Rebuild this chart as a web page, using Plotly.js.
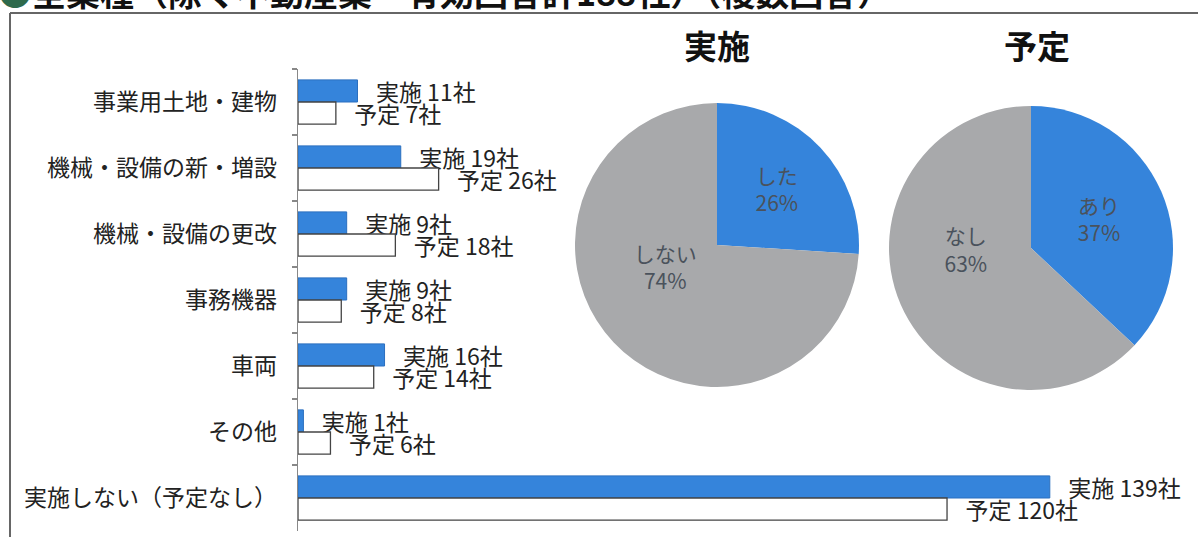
<!DOCTYPE html>
<html>
<head>
<meta charset="utf-8">
<script src="https://cdn.plot.ly/plotly-3.0.1.min.js"></script>
<style>html,body{margin:0;padding:0;background:#fff;}#chart{width:1198px;height:537px;}</style>
</head>
<body>
<div id="chart"></div>
<script>
const categories = ['事業用土地・建物', '機械・設備の新・増設', '機械・設備の更改', '事務機器', '車両', 'その他', '実施しない（予定なし）'];
const jisshiValues = [11, 19, 9, 9, 16, 1, 139];
const yoteiValues = [7, 26, 18, 8, 14, 6, 120];
const jisshiPieLabels = ['した', 'しない'];
const jisshiPieValues = [26, 74];
const yoteiPieLabels = ['あり', 'なし'];
const yoteiPieValues = [37, 63];
const titleText = '<span style="color:#2e6a4c">●</span>全業種（除く不動産業・有効回答計188社）（複数回答）';

const FONT = '"Noto Sans CJK JP", "Noto Sans", sans-serif';
const BLUE = '#3584db';
const GRAY = '#a8a9ab';
const NB = '\u00a0\u00a0\u00a0';
const LIFT = '<br>\u00a0<br>\u00a0';

// pixel helpers for plot area: x 298..1198, y 69..531
const L = 298, W = 900, T = 69, H = 462;
const px = v => (v - L) / W;
const py = v => (T + H - v) / H;

const traces = [
  {
    type: 'bar', orientation: 'h', name: '実施',
    y: categories, x: jisshiValues,
    marker: {color: BLUE, line: {color: '#2b6fbf', width: 1}},
    texttemplate: NB + '実施 %{x}社', textposition: 'outside',
    textfont: {family: FONT, size: 23, color: '#222'},
    constraintext: 'none', cliponaxis: false, hoverinfo: 'skip'
  },
  {
    type: 'bar', orientation: 'h', name: '予定',
    y: categories, x: yoteiValues,
    marker: {color: '#ffffff', line: {color: '#444', width: 1.3}},
    texttemplate: NB + '予定 %{x}社', textposition: 'outside',
    textfont: {family: FONT, size: 23, color: '#222'},
    constraintext: 'none', cliponaxis: false, hoverinfo: 'skip'
  },
  {
    type: 'pie', labels: jisshiPieLabels, values: jisshiPieValues,
    sort: false, direction: 'clockwise', rotation: 0,
    marker: {colors: [BLUE, GRAY], line: {width: 0}},
    texttemplate: ['%{label}<br>%{value}%', '%{label}<br>%{value}%' + LIFT], textposition: 'inside',
    insidetextorientation: 'horizontal',
    textfont: {family: FONT, size: 21, color: '#4a525c'},
    domain: {x: [px(575), px(859)], y: [py(387), py(103)]},
    showlegend: false, hoverinfo: 'skip'
  },
  {
    type: 'pie', labels: yoteiPieLabels, values: yoteiPieValues,
    sort: false, direction: 'clockwise', rotation: 0,
    marker: {colors: [BLUE, GRAY], line: {width: 0}},
    texttemplate: ['%{label}<br>%{value}%', '%{label}<br>%{value}%' + LIFT], textposition: 'inside',
    insidetextorientation: 'horizontal',
    textfont: {family: FONT, size: 21, color: '#4a525c'},
    domain: {x: [px(889), px(1173)], y: [py(390), py(106)]},
    showlegend: false, hoverinfo: 'skip'
  }
];

const layout = {
  width: 1198, height: 537,
  margin: {l: L, r: 0, t: T, b: 537 - T - H},
  paper_bgcolor: '#fff', plot_bgcolor: 'rgba(0,0,0,0)',
  showlegend: false,
  barmode: 'group', bargap: 0.33, bargroupgap: 0,
  font: {family: FONT, color: '#222'},
  xaxis: {range: [0, 166.4], visible: false, fixedrange: true},
  yaxis: {
    type: 'category', autorange: 'reversed',
    showline: true, linecolor: '#888', linewidth: 1.5,
    ticks: 'outside', tickson: 'boundaries', ticklen: 5, tickcolor: '#888', tickwidth: 1.5,
    showgrid: false, zeroline: false,
    tickfont: {family: FONT, size: 23, color: '#222'},
    ticklabelstandoff: 15, fixedrange: true
  },
  shapes: [
    {type: 'line', xref: 'paper', yref: 'paper', x0: px(10), x1: px(10), y0: py(13), y1: py(540), line: {color: '#666', width: 2}},
    {type: 'line', xref: 'paper', yref: 'paper', x0: px(10), x1: px(1200), y0: py(13), y1: py(13), line: {color: '#666', width: 2}}
  ],
  annotations: [
    {text: titleText, xref: 'paper', yref: 'paper', x: px(-4), y: py(-9), xanchor: 'left', yanchor: 'middle',
     showarrow: false, font: {family: FONT, size: 34, color: '#111', weight: 'bold'}},
    {text: '<b>実施</b>', xref: 'paper', yref: 'paper', x: px(717), y: py(45), xanchor: 'center', yanchor: 'middle',
     showarrow: false, font: {family: FONT, size: 33, color: '#111'}},
    {text: '<b>予定</b>', xref: 'paper', yref: 'paper', x: px(1037), y: py(45), xanchor: 'center', yanchor: 'middle',
     showarrow: false, font: {family: FONT, size: 33, color: '#111'}}
  ]
};

Plotly.newPlot('chart', traces, layout, {displayModeBar: false, staticPlot: true});
</script>
</body>
</html>
